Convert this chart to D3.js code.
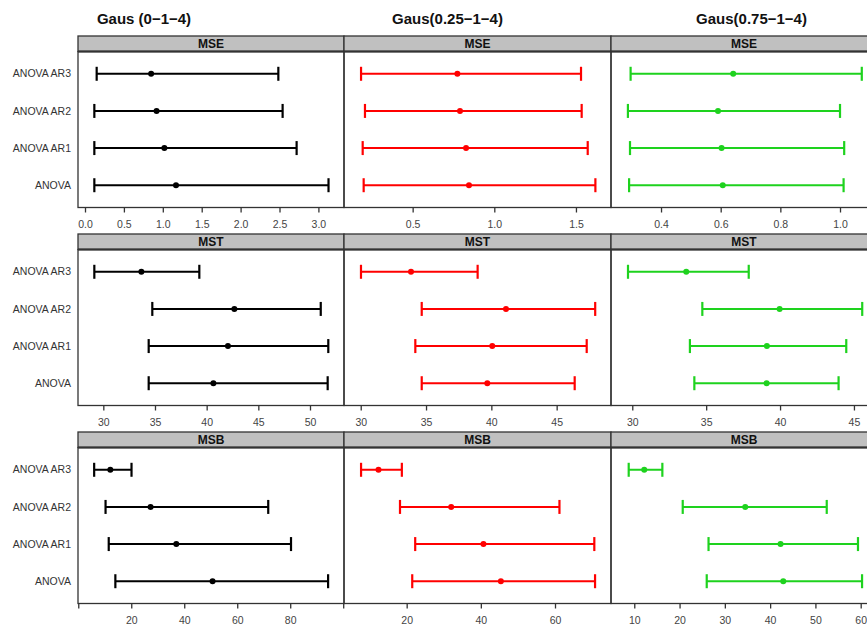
<!DOCTYPE html>
<html>
<head>
<meta charset="utf-8">
<script src="https://cdn.jsdelivr.net/npm/d3@7"></script>
<style>
  html, body { margin: 0; padding: 0; background: #fff; }
  svg { display: block; font-family: "Liberation Sans", Arial, sans-serif; }
</style>
</head>
<body>
<svg id="chart" width="867" height="629"></svg>
<script>
// Models, listed bottom to top within each panel
const categories = ["ANOVA", "ANOVA AR1", "ANOVA AR2", "ANOVA AR3"];
const groups = ["Gaus (0\u22121\u22124)", "Gaus(0.25\u22121\u22124)", "Gaus(0.75\u22121\u22124)"];
const measures = ["MSE", "MST", "MSB"];
const groupColors = ["#000000", "#ff0000", "#1ed21e"];

// MSE: lower bound, estimate, upper bound (ANOVA, AR1, AR2, AR3)
const mseG0Lower  = [0.12, 0.12, 0.12, 0.15];
const mseG0Est    = [1.17, 1.02, 0.92, 0.85];
const mseG0Upper  = [3.13, 2.72, 2.54, 2.485];
const mseG25Lower = [0.200, 0.194, 0.208, 0.184];
const mseG25Est   = [0.845, 0.827, 0.790, 0.774];
const mseG25Upper = [1.619, 1.572, 1.535, 1.531];
const mseG75Lower = [0.293, 0.296, 0.289, 0.298];
const mseG75Est   = [0.607, 0.603, 0.591, 0.642];
const mseG75Upper = [1.012, 1.014, 1.000, 1.073];

// MST
const mstG0Lower  = [34.39, 34.39, 34.74, 29.13];
const mstG0Est    = [40.65, 42.06, 42.68, 33.68];
const mstG0Upper  = [51.71, 51.77, 51.04, 39.29];
const mstG25Lower = [34.67, 34.18, 34.67, 30.02];
const mstG25Est   = [39.69, 40.07, 41.12, 33.85];
const mstG25Upper = [46.38, 47.30, 47.95, 38.95];
const mstG75Lower = [34.20, 33.90, 34.74, 29.71];
const mstG75Est   = [39.09, 39.11, 39.97, 33.65];
const mstG75Upper = [43.96, 44.48, 45.56, 37.88];

// MSB
const msbG0Lower  = [14.0, 11.5, 10.3, 6.0];
const msbG0Est    = [50.7, 37.0, 27.3, 12.1];
const msbG0Upper  = [94.3, 80.3, 71.7, 20.1];
const msbG25Lower = [21.5, 22.3, 18.2, 7.7];
const msbG25Est   = [45.4, 40.7, 32.0, 12.4];
const msbG25Upper = [70.8, 70.6, 61.2, 18.7];
const msbG75Lower = [26.0, 26.4, 20.7, 8.77];
const msbG75Est   = [42.9, 42.3, 34.5, 12.2];
const msbG75Upper = [60.3, 59.4, 52.5, 16.2];

// Axis limits and ticks for each panel (free x scales)
const xLimits = {
  MSE: [[-0.09, 3.329], [0.0796, 1.7146], [0.2323, 1.124]],
  MST: [[27.55, 53.29], [28.72, 49.16], [28.56, 46.56]],
  MSB: [[-0.1, 100.3], [3.1, 75.1], [4.86, 63.6]]
};
const xTicks = {
  MSE: [[0, 0.5, 1, 1.5, 2, 2.5, 3], [0.5, 1, 1.5], [0.4, 0.6, 0.8, 1.0]],
  MST: [[30, 35, 40, 45, 50], [30, 35, 40, 45], [30, 35, 40, 45]],
  MSB: [[0, 20, 40, 60, 80, 100], [20, 40, 60], [10, 20, 30, 40, 50, 60]]
};
const tickLabelFormat = { MSE: d3.format(".1f"), MST: d3.format("d"), MSB: d3.format("d") };
// unlabelled ticks sitting at the panel edges
const hiddenTickLabels = { MSB: [[0, 100], [], []] };

const intervals = {
  MSE: [[mseG0Lower, mseG0Est, mseG0Upper], [mseG25Lower, mseG25Est, mseG25Upper], [mseG75Lower, mseG75Est, mseG75Upper]],
  MST: [[mstG0Lower, mstG0Est, mstG0Upper], [mstG25Lower, mstG25Est, mstG25Upper], [mstG75Lower, mstG75Est, mstG75Upper]],
  MSB: [[msbG0Lower, msbG0Est, msbG0Upper], [msbG25Lower, msbG25Est, msbG25Upper], [msbG75Lower, msbG75Est, msbG75Upper]]
};

// Layout
const colEdges = [78, 344, 611, 877];
const rowTops = [36, 234, 432];
const stripH = 15.5;
const plotH = 156;
const borderColor = "#333";

const svg = d3.select("#chart");

// Column titles
const titleX = [144, 447.5, 751.5];
groups.forEach((g, i) => {
  svg.append("text")
    .attr("x", titleX[i]).attr("y", 23.5)
    .attr("text-anchor", "middle")
    .attr("font-size", 15).attr("font-weight", "bold")
    .attr("fill", "#111")
    .text(g);
});

measures.forEach((m, r) => {
  const stripTop = rowTops[r];
  const plotTop = stripTop + stripH;
  const plotBottom = plotTop + plotH;

  const y = d3.scaleLinear().domain([0.4, categories.length + 0.6]).range([plotBottom, plotTop]);

  // Category labels on the left of the first column
  svg.append("g").selectAll("text")
    .data(categories)
    .join("text")
    .attr("x", 71)
    .attr("y", (d, i) => y(i + 1))
    .attr("dy", "0.35em")
    .attr("text-anchor", "end")
    .attr("font-size", 10.5)
    .attr("fill", "#333")
    .text(d => d);

  groups.forEach((g, c) => {
    const x0 = colEdges[c], x1 = colEdges[c + 1];
    const x = d3.scaleLinear().domain(xLimits[m][c]).range([x0, x1]);
    const color = groupColors[c];
    const [lo, est, hi] = intervals[m][c];
    const panel = svg.append("g");

    // Strip
    panel.append("rect")
      .attr("x", x0).attr("y", stripTop)
      .attr("width", x1 - x0).attr("height", stripH)
      .attr("fill", "#c0c0c0")
      .attr("stroke", borderColor).attr("stroke-width", 1.3);
    panel.append("text")
      .attr("x", (x0 + x1) / 2)
      .attr("y", stripTop + stripH / 2)
      .attr("dy", "0.36em")
      .attr("text-anchor", "middle")
      .attr("font-size", 12).attr("font-weight", "bold")
      .attr("fill", "#111")
      .text(m);

    // Panel box
    panel.append("rect")
      .attr("x", x0).attr("y", plotTop)
      .attr("width", x1 - x0).attr("height", plotH)
      .attr("fill", "none")
      .attr("stroke", borderColor).attr("stroke-width", 1.3);
    panel.append("line")
      .attr("x1", x0).attr("x2", x1)
      .attr("y1", plotTop).attr("y2", plotTop)
      .attr("stroke", borderColor).attr("stroke-width", 2);

    // Bottom axis
    const hidden = (hiddenTickLabels[m] && hiddenTickLabels[m][c]) || [];
    const axis = d3.axisBottom(x)
      .tickValues(xTicks[m][c])
      .tickSize(5)
      .tickPadding(8)
      .tickFormat(d => hidden.includes(d) ? "" : tickLabelFormat[m](d));
    const ag = panel.append("g")
      .attr("transform", `translate(0,${plotBottom})`)
      .call(axis);
    ag.select(".domain").remove();
    ag.selectAll(".tick line").attr("stroke", borderColor).attr("stroke-width", 1.3);
    ag.selectAll(".tick text")
      .attr("font-size", 10.5)
      .attr("font-family", "Liberation Sans, Arial, sans-serif")
      .attr("fill", "#444");

    // Error bars
    const bars = panel.append("g").selectAll("g")
      .data(categories.map((d, i) => ({ i, lo: lo[i], est: est[i], hi: hi[i] })))
      .join("g");
    bars.append("line")
      .attr("x1", d => x(d.lo)).attr("x2", d => x(d.hi))
      .attr("y1", d => y(d.i + 1)).attr("y2", d => y(d.i + 1))
      .attr("stroke", color).attr("stroke-width", 2);
    ["lo", "hi"].forEach(k => {
      bars.append("line")
        .attr("x1", d => x(d[k])).attr("x2", d => x(d[k]))
        .attr("y1", d => y(d.i + 1) - 7).attr("y2", d => y(d.i + 1) + 7)
        .attr("stroke", color).attr("stroke-width", 2.2);
    });
    bars.append("circle")
      .attr("cx", d => x(d.est)).attr("cy", d => y(d.i + 1))
      .attr("r", 3)
      .attr("fill", color);
  });
});
</script>
</body>
</html>
